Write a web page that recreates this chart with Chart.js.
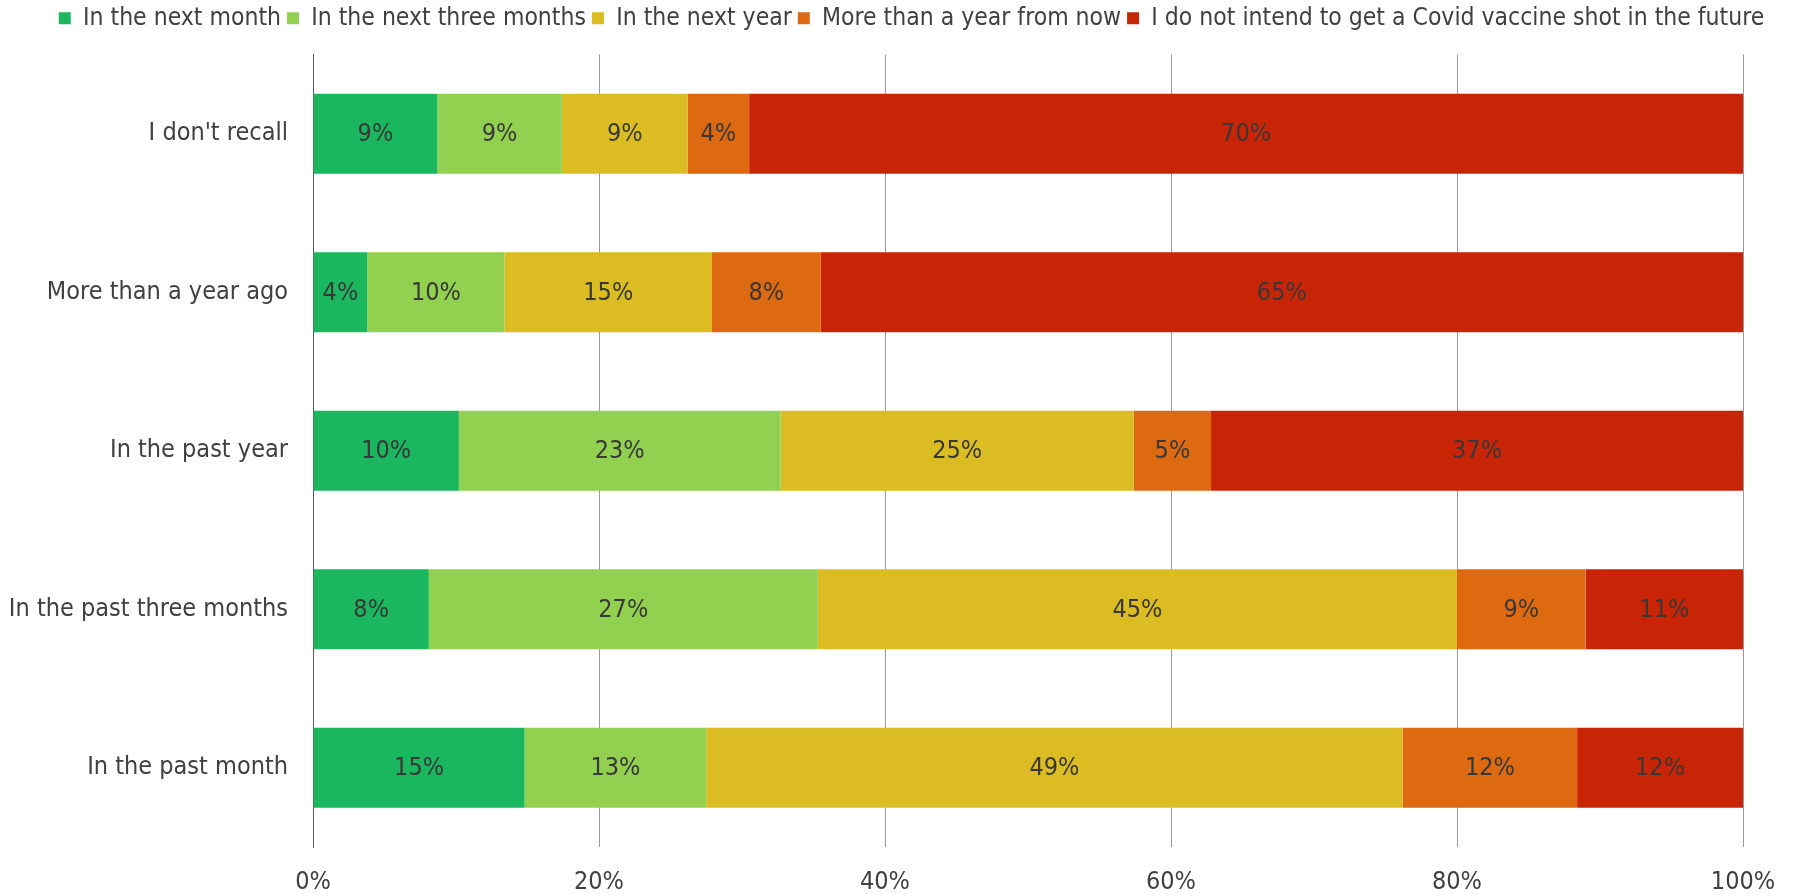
<!DOCTYPE html>
<html>
<head>
<meta charset="utf-8">
<script src="https://cdn.jsdelivr.net/npm/chart.js@4/dist/chart.umd.min.js"></script>
<style>
  html, body { margin: 0; padding: 0; background: #ffffff; }
  #wrap { width: 1797px; height: 894px; position: relative; }
</style>
</head>
<body>
<div id="wrap"><canvas id="c"></canvas></div>
<script>
const categories = ["I don't recall", "More than a year ago", "In the past year", "In the past three months", "In the past month"];
const seriesNames = ["In the next month", "In the next three months", "In the next year", "More than a year from now", "I do not intend to get a Covid vaccine shot in the future"];
const nextMonth       = [8.7, 3.8, 10.2, 8.1, 14.8];
const nextThreeMonths = [8.7, 9.6, 22.5, 27.2, 12.7];
const nextYear        = [8.8, 14.5, 24.7, 44.7, 48.7];
const moreThanYear    = [4.3, 7.6, 5.4, 9.0, 12.2];
const notIntend       = [69.5, 64.5, 37.2, 11.0, 11.6];
const xTicks = [0, 20, 40, 60, 80, 100];

const colors = ["#1bb75f", "#92d050", "#dbbc22", "#dd6910", "#c82506"];
const seriesValues = [nextMonth, nextThreeMonths, nextYear, moreThanYear, notIntend];

const FONT = "'DejaVu Sans Condensed', 'Liberation Sans Narrow', 'DejaVu Sans', sans-serif";
const TEXT = "#404040";

const labelPlugin = {
  id: 'segLabels',
  afterDatasetsDraw(chart) {
    const ctx = chart.ctx;
    ctx.save();
    ctx.font = "25px " + FONT;
    ctx.fillStyle = "#383838";
    ctx.textAlign = 'center';
    ctx.textBaseline = 'middle';
    chart.data.datasets.forEach((ds, di) => {
      const meta = chart.getDatasetMeta(di);
      meta.data.forEach((bar, i) => {
        const v = ds.data[i];
        const cx = (bar.x + bar.base) / 2;
        ctx.fillText(Math.round(v) + '%', cx, bar.y + 1);
      });
    });
    ctx.restore();
  }
};

const legendGap = {
  id: 'legendGap',
  beforeInit(chart) {
    const lg = chart.legend;
    const origFit = lg.fit;
    lg.fit = function () {
      origFit.call(this);
      this.height += 14;
    };
  },
  afterLayout(chart) {
    if (chart.legend) {
      chart.legend.left += 40;
      chart.legend.right += 40;
    }
  }
};

new Chart(document.getElementById('c'), {
  type: 'bar',
  data: {
    labels: categories,
    datasets: seriesNames.map((n, i) => ({
      label: n,
      data: seriesValues[i],
      backgroundColor: colors[i],
      borderWidth: 0,
      categoryPercentage: 1.0,
      barPercentage: 0.505
    }))
  },
  options: {
    indexAxis: 'y',
    responsive: true,
    maintainAspectRatio: false,
    animation: false,
    layout: { padding: { top: 0, right: 54, left: 0, bottom: 0 } },
    plugins: {
      legend: {
        position: 'top',
        labels: {
          font: { family: FONT, size: 24.5 },
          color: TEXT,
          boxWidth: 12,
          boxHeight: 12,
          padding: 6
        }
      },
      tooltip: { enabled: false }
    },
    scales: {
      x: {
        stacked: true,
        min: 0,
        max: 100,
        afterBuildTicks: (scale) => { scale.ticks = xTicks.map(v => ({ value: v })); },
        ticks: {
          callback: (v) => v + '%',
          font: { family: FONT, size: 25 },
          color: TEXT,
          padding: 20
        },
        grid: {
          color: "#9a9a9a",
          lineWidth: 1,
          drawTicks: false
        },
        border: { display: false },
        afterFit: (scale) => { scale.height = 47; }
      },
      y: {
        stacked: true,
        ticks: {
          font: { family: FONT, size: 25 },
          color: TEXT,
          padding: 17
        },
        grid: { display: false },
        border: { display: true, color: "#595959", width: 1 },
        afterFit: (scale) => { scale.width = 313; }
      }
    }
  },
  plugins: [labelPlugin, legendGap]
});
</script>
</body>
</html>
